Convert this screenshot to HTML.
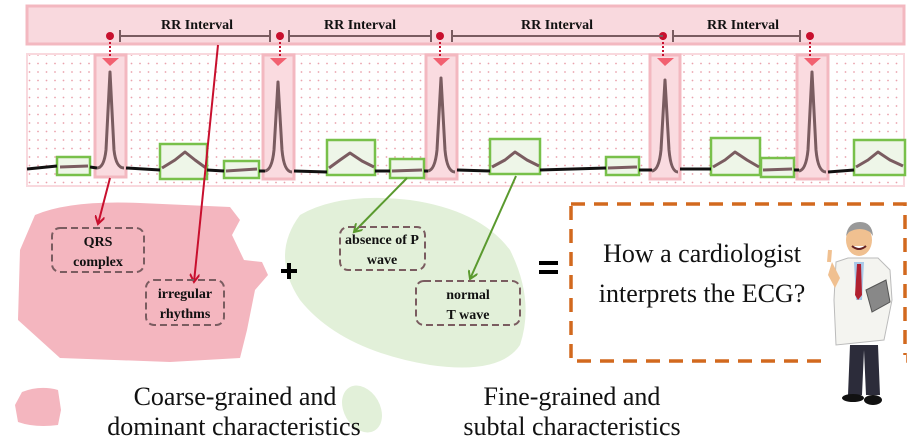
<!DOCTYPE html>
<html><head><style>body{margin:0;background:#fff}svg{display:block}svg text{font-family:"Liberation Serif","Times New Roman",Times,"DejaVu Serif","Noto Serif CJK SC",serif}</style></head><body>
<svg width="914" height="442" viewBox="0 0 914 442" xmlns="http://www.w3.org/2000/svg">
<defs>
<pattern id="dots" width="8.5" height="8.5" patternUnits="userSpaceOnUse"><circle cx="4" cy="4" r="0.9" fill="#eaa3ad"/></pattern>
<marker id="ar" markerWidth="10" markerHeight="10" refX="8" refY="5" orient="auto" markerUnits="userSpaceOnUse"><path d="M0,0 L8,5 L0,10" fill="none" stroke="#c8102e" stroke-width="2"/></marker>
<marker id="ag" markerWidth="10" markerHeight="10" refX="8" refY="5" orient="auto" markerUnits="userSpaceOnUse"><path d="M0,0 L8,5 L0,10" fill="none" stroke="#5a9a2e" stroke-width="2"/></marker>
</defs>
<rect x="27" y="6" width="877" height="38" fill="#f9d9de" stroke="#f3b8c0" stroke-width="3"/>
<rect x="27" y="54" width="877" height="132" fill="#fff" stroke="#f9d9de" stroke-width="2"/>
<rect x="28" y="55" width="875" height="130" fill="url(#dots)"/>
<g fill="#fadbe0" stroke="#f3b8c0" stroke-width="3">
<rect x="95" y="55" width="31" height="122"/><rect x="263" y="55" width="31" height="124"/><rect x="426" y="55" width="31" height="124"/><rect x="650" y="55" width="30" height="124"/><rect x="797" y="55" width="31" height="124"/></g>
<g fill="#eef6e8" stroke="#78c04a" stroke-width="2.5">
<rect x="57" y="157" width="33" height="18"/><rect x="160" y="144" width="47" height="35"/><rect x="224" y="161" width="35" height="17"/><rect x="327" y="140" width="48" height="35"/><rect x="390" y="159" width="34" height="19"/><rect x="490" y="139" width="50" height="35"/><rect x="606" y="157" width="33" height="18"/><rect x="711" y="138" width="49" height="37"/><rect x="761" y="158" width="33" height="19"/><rect x="854" y="140" width="51" height="35"/></g>
<path d="M27,169 L57,166 M90,167 L97,168 M126,168 L160,170 M207,170 L224,171 M259,171 L265,171 M294,171 L327,172 M375,171 L390,171 M424,171 L428,171 M457,170 L490,171 M540,170 L606,168 M639,170 L652,170 M680,169 L711,169 M794,170 L799,170 M828,172 L854,170" stroke="#111" stroke-width="3" fill="none"/>
<g stroke="#7a5c60" stroke-width="3" fill="none" stroke-linejoin="round">
<path d="M60,167 L88,166"/><path d="M97,168 Q104,168 106,150 L110,72 L114,150 Q116,168 124,168"/>
<path d="M162,168 L175,160 L185,152 L195,160 L206,168"/><path d="M226,171 L257,169"/>
<path d="M265,171 Q272,170 274,150 L278,82 L282,150 Q284,172 292,172"/>
<path d="M329,168 L340,160 L350,153 L362,161 L374,167"/><path d="M392,171 L422,170"/>
<path d="M428,171 Q435,170 437,150 L441,78 L445,150 Q447,172 455,172"/>
<path d="M492,167 L505,160 L515,152 L527,160 L539,166"/><path d="M608,168 L637,167"/>
<path d="M652,171 Q659,170 661,150 L665,80 L669,150 Q671,172 678,172"/>
<path d="M713,167 L725,160 L735,152 L747,160 L759,167"/><path d="M763,170 L792,169"/>
<path d="M799,171 Q806,170 808,150 L812,72 L816,150 Q818,172 826,172"/>
<path d="M856,167 L868,160 L878,152 L890,160 L903,166"/></g>
<g fill="#f26070"><path d="M102,58 L119,58 L110,66Z"/><path d="M270,58 L287,58 L278,66Z"/><path d="M433,58 L450,58 L441,66Z"/><path d="M657,58 L674,58 L665,66Z"/><path d="M804,58 L821,58 L812,66Z"/></g>
<g stroke="#c8102e" stroke-width="2" stroke-dasharray="2,2"><path d="M110,38 V58"/><path d="M280,38 V58"/><path d="M440,38 V58"/><path d="M663,38 V58"/><path d="M810,38 V58"/></g>
<g fill="#c8102e"><circle cx="110" cy="36" r="4"/><circle cx="280" cy="36" r="4"/><circle cx="440" cy="36" r="4"/><circle cx="663" cy="36" r="4"/><circle cx="810" cy="36" r="4"/></g>
<g stroke="#7a5c60" stroke-width="2"><path d="M120,36 H270 M120,30 V42 M270,30 V42"/><path d="M289,36 H431 M289,30 V42 M431,30 V42"/><path d="M452,36 H663 M452,30 V42"/><path d="M673,36 H800 M673,30 V42 M800,30 V42"/></g>
<g font-size="14" font-weight="bold" text-anchor="middle" fill="#111"><text x="197" y="29">RR Interval</text><text x="360" y="29">RR Interval</text><text x="557" y="29">RR Interval</text><text x="743" y="29">RR Interval</text></g>
<path d="M35,215 Q70,200 140,203 L230,207 L240,220 L232,235 L244,260 L262,262 L268,275 L255,290 L247,330 L240,358 L170,362 L60,358 L18,320 L20,250 Z" fill="#f4b6bf"/>
<path d="M300,215 Q340,192 410,200 Q480,210 510,250 Q535,300 520,345 Q500,375 430,365 Q340,350 300,300 Q270,255 300,215Z" fill="#e2f0d9"/>
<path d="M110,178 L98,224" stroke="#c8102e" stroke-width="2" marker-end="url(#ar)"/>
<path d="M218,45 L194,282" stroke="#c8102e" stroke-width="2" marker-end="url(#ar)"/>
<path d="M407,178 L354,232" stroke="#5a9a2e" stroke-width="2" marker-end="url(#ag)"/>
<path d="M516,176 L470,279" stroke="#5a9a2e" stroke-width="2" marker-end="url(#ag)"/>
<g fill="none" stroke="#7a5c60" stroke-width="2" stroke-dasharray="7,4">
<rect x="52" y="228" width="92" height="44" rx="8"/><rect x="146" y="280" width="78" height="45" rx="8"/>
<rect x="340" y="227" width="85" height="43" rx="8"/><rect x="416" y="281" width="104" height="44" rx="8"/></g>
<g font-size="14" font-weight="bold" text-anchor="middle" fill="#111">
<text x="98" y="246">QRS</text><text x="98" y="266">complex</text>
<text x="185" y="298">irregular</text><text x="185" y="318">rhythms</text>
<text x="382" y="244">absence of P</text><text x="382" y="264">wave</text>
<text x="468" y="299">normal</text><text x="468" y="319">T wave</text></g>
<path d="M281,271 H297 M289,263 V279" stroke="#000" stroke-width="4"/>
<path d="M539,263 H558 M539,272 H558" stroke="#000" stroke-width="4"/>
<rect x="571" y="204" width="334" height="157" fill="none" stroke="#d2691e" stroke-width="3.5" stroke-dasharray="14,9"/>
<g font-size="26" text-anchor="middle" fill="#111"><text x="702" y="262">How a cardiologist</text><text x="702" y="302">interprets the ECG?</text></g>
<rect x="826" y="355" width="80" height="10" fill="#fff"/>
<g>
<path d="M836,262 L848,258 L878,258 L890,270 L892,300 L884,340 L836,345 L834,300Z" fill="#f4f4f0" stroke="#bbb" stroke-width="1"/>
<path d="M850,345 L848,395 L862,395 L864,350 L866,395 L880,395 L878,345Z" fill="#2c2c3a"/>
<ellipse cx="853" cy="398" rx="11" ry="4" fill="#111"/><ellipse cx="873" cy="400" rx="9" ry="5" fill="#111"/>
<path d="M854,262 L864,262 L862,300 L856,300Z" fill="#a8c8e8"/><path d="M857,264 L861,264 L862,295 L858,300 L855,295Z" fill="#b02030"/>
<ellipse cx="859" cy="240" rx="13" ry="16" fill="#f0c090"/>
<path d="M846,236 Q848,222 860,222 Q872,222 873,236 L870,232 Q860,226 849,232Z" fill="#999"/>
<path d="M852,246 Q859,252 866,246" stroke="#622" stroke-width="2" fill="#fff"/>
<path d="M832,262 L828,275 L835,288 L840,278Z" fill="#f0c090"/><path d="M829,262 L830,250" stroke="#f0c090" stroke-width="4"/>
<path d="M866,290 L886,280 L890,302 L872,312Z" fill="#888" stroke="#555"/>
</g>
<path d="M22,392 Q40,385 58,390 L61,410 L58,425 Q35,428 18,422 L15,405Z" fill="#f4b6bf"/>
<ellipse cx="362" cy="409" rx="18" ry="25" transform="rotate(-30 362 409)" fill="#e2f0d9"/>
<g font-size="26" text-anchor="middle" fill="#111"><text x="235" y="405">Coarse-grained and</text><text x="234" y="435">dominant characteristics</text>
<text x="572" y="405">Fine-grained and</text><text x="572" y="435">subtal characteristics</text></g>
</svg>
</body></html>
